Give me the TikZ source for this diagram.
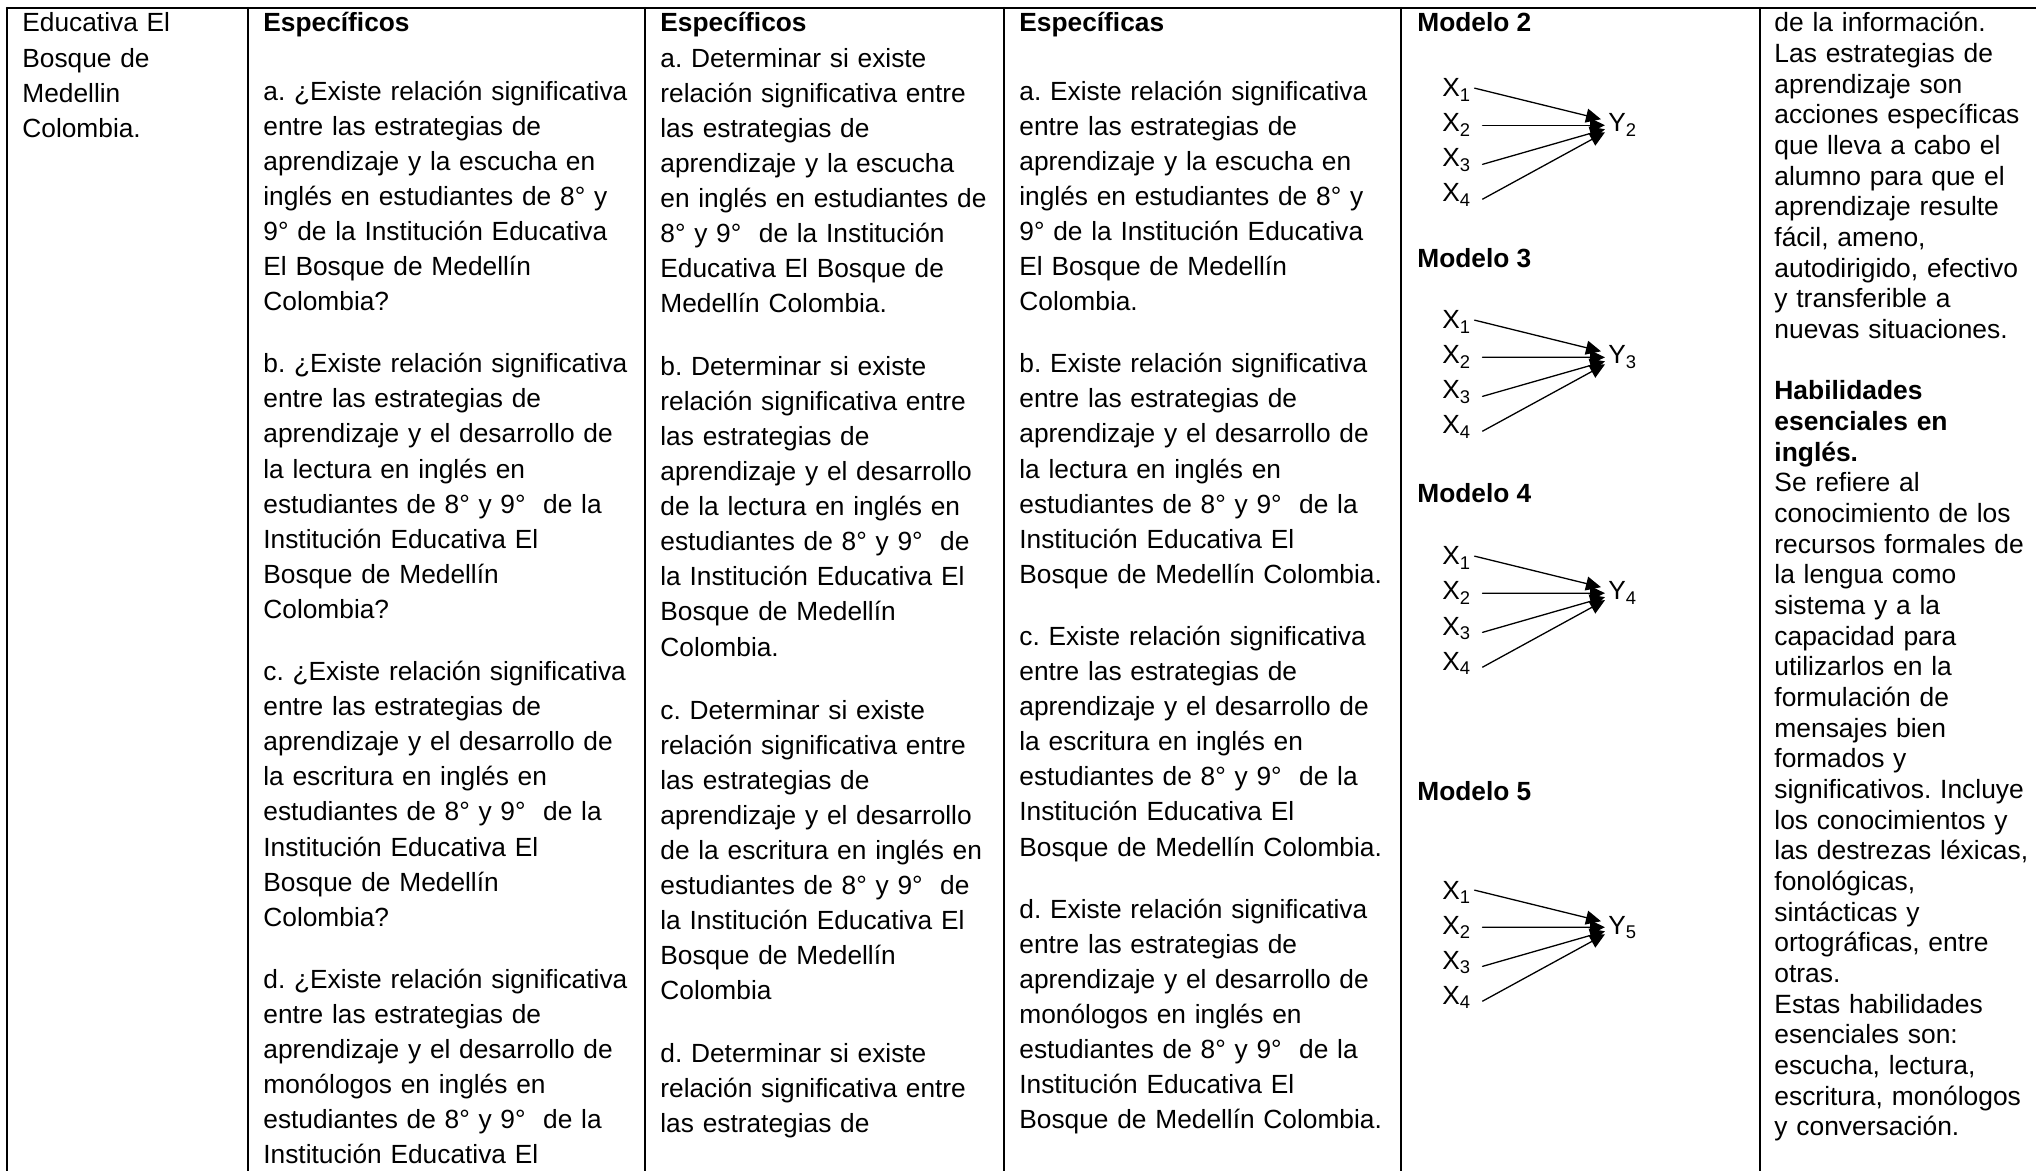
\documentclass[tikz,border=0pt]{standalone}
\usepackage{fontspec}
\setmainfont{Liberation Sans}
\usetikzlibrary{arrows.meta}
\frenchspacing

\tikzset{
  celltext/.style={anchor=base west,inner sep=0pt,align=left,font=\fontsize{13.15}{17.53}\selectfont},
  narrowtext/.style={celltext,font=\fontsize{13.2}{15.33}\selectfont},
  varlabel/.style={anchor=base west,inner sep=1.5pt,font=\fontsize{13.15}{15}\selectfont},
  rule/.style={line width=1.1pt}
}

\begin{document}
\begin{tikzpicture}[line cap=round,line join=round,>={Triangle[length=7.5pt,width=7pt]},x=0.5pt,y=-0.5pt]
\useasboundingbox (0,0) rectangle (2036,1171);
% table rules
\draw[rule] (7,8) -- (2036,8);
\foreach \xx in {7,248,645,1004,1401,1760}
  \draw[rule] (\xx,8) -- (\xx,1171);

% column 1
\node[celltext,text width=110pt] (lugar) at (22,32) {Educativa El\\
Bosque de\\
Medellin\\
Colombia.};

% column 2: preguntas
\node[celltext,text width=190pt] (preguntas) at (263,32) {\textbf{Específicos}\\[16.5pt]
a. ¿Existe relación significativa\\
entre las estrategias de\\
aprendizaje y la escucha en\\
inglés en estudiantes de 8° y\\
9° de la Institución Educativa\\
El Bosque de Medellín\\
Colombia?\\[13.7pt]
b. ¿Existe relación significativa\\
entre las estrategias de\\
aprendizaje y el desarrollo de\\
la lectura en inglés en\\
estudiantes de 8° y 9°\ \ de la\\
Institución Educativa El\\
Bosque de Medellín\\
Colombia?\\[13.7pt]
c. ¿Existe relación significativa\\
entre las estrategias de\\
aprendizaje y el desarrollo de\\
la escritura en inglés en\\
estudiantes de 8° y 9°\ \ de la\\
Institución Educativa El\\
Bosque de Medellín\\
Colombia?\\[13.7pt]
d. ¿Existe relación significativa\\
entre las estrategias de\\
aprendizaje y el desarrollo de\\
monólogos en inglés en\\
estudiantes de 8° y 9°\ \ de la\\
Institución Educativa El};

% column 3: objetivos
\node[celltext,text width=170pt] (objetivos) at (660,32) {\textbf{Específicos}\\
a. Determinar si existe\\
relación significativa entre\\
las estrategias de\\
aprendizaje y la escucha\\
en inglés en estudiantes de\\
8° y 9°\ \ de la Institución\\
Educativa El Bosque de\\
Medellín Colombia.\\[14pt]
b. Determinar si existe\\
relación significativa entre\\
las estrategias de\\
aprendizaje y el desarrollo\\
de la lectura en inglés en\\
estudiantes de 8° y 9°\ \ de\\
la Institución Educativa El\\
Bosque de Medellín\\
Colombia.\\[14pt]
c. Determinar si existe\\
relación significativa entre\\
las estrategias de\\
aprendizaje y el desarrollo\\
de la escritura en inglés en\\
estudiantes de 8° y 9°\ \ de\\
la Institución Educativa El\\
Bosque de Medellín\\
Colombia\\[14pt]
d. Determinar si existe\\
relación significativa entre\\
las estrategias de};

% column 4: hipotesis
\node[celltext,text width=190pt] (hipotesis) at (1019,32) {\textbf{Específicas}\\[16.5pt]
a. Existe relación significativa\\
entre las estrategias de\\
aprendizaje y la escucha en\\
inglés en estudiantes de 8° y\\
9° de la Institución Educativa\\
El Bosque de Medellín\\
Colombia.\\[13.7pt]
b. Existe relación significativa\\
entre las estrategias de\\
aprendizaje y el desarrollo de\\
la lectura en inglés en\\
estudiantes de 8° y 9°\ \ de la\\
Institución Educativa El\\
Bosque de Medellín Colombia.\\[13.7pt]
c. Existe relación significativa\\
entre las estrategias de\\
aprendizaje y el desarrollo de\\
la escritura en inglés en\\
estudiantes de 8° y 9°\ \ de la\\
Institución Educativa El\\
Bosque de Medellín Colombia.\\[13.7pt]
d. Existe relación significativa\\
entre las estrategias de\\
aprendizaje y el desarrollo de\\
monólogos en inglés en\\
estudiantes de 8° y 9°\ \ de la\\
Institución Educativa El\\
Bosque de Medellín Colombia.};

% column 5: modelos
\foreach \m/\hy/\yy in {2/32/97,3/268/329,4/503/565,5/800/899}{
  \node[celltext] (modelo\m) at (1417,\hy) {\textbf{Modelo \m}};
  \node[varlabel] (m\m-x1) at (1439,\yy) {X\textsubscript{1}};
  \node[varlabel] (m\m-x2) at (1439,\yy+35) {X\textsubscript{2}};
  \node[varlabel] (m\m-x3) at (1439,\yy+70) {X\textsubscript{3}};
  \node[varlabel] (m\m-x4) at (1439,\yy+105) {X\textsubscript{4}};
  \node[varlabel] (m\m-y) at (1605,\yy+35) {Y\textsubscript{\m}};
  \draw[->,line width=0.65pt] ([yshift=1pt]m\m-x1.east) -- ([xshift=-2pt,yshift=3pt]m\m-y.west);
  \draw[->,line width=0.65pt] ([xshift=4pt]m\m-x2.east) -- (m\m-y.west);
  \draw[->,line width=0.65pt] ([xshift=4pt,yshift=-2pt]m\m-x3.east) -- ([yshift=-2pt]m\m-y.west);
  \draw[->,line width=0.65pt] ([xshift=4pt,yshift=-2pt]m\m-x4.east) -- ([yshift=-3.5pt]m\m-y.west);
}

% column 6: marco
\node[narrowtext,text width=135pt] (marco) at (1774,32) {de la información.\\
Las estrategias de\\
aprendizaje son\\
acciones específicas\\
que lleva a cabo el\\
alumno para que el\\
aprendizaje resulte\\
fácil, ameno,\\
autodirigido, efectivo\\
y transferible a\\
nuevas situaciones.\\[15.33pt]
\textbf{Habilidades}\\
\textbf{esenciales en}\\
\textbf{inglés.}\\
Se refiere al\\
conocimiento de los\\
recursos formales de\\
la lengua como\\
sistema y a la\\
capacidad para\\
utilizarlos en la\\
formulación de\\
mensajes bien\\
formados y\\
significativos. Incluye\\
los conocimientos y\\
las destrezas léxicas,\\
fonológicas,\\
sintácticas y\\
ortográficas, entre\\
otras.\\
Estas habilidades\\
esenciales son:\\
escucha, lectura,\\
escritura, monólogos\\
y conversación.};
\end{tikzpicture}
\end{document}
